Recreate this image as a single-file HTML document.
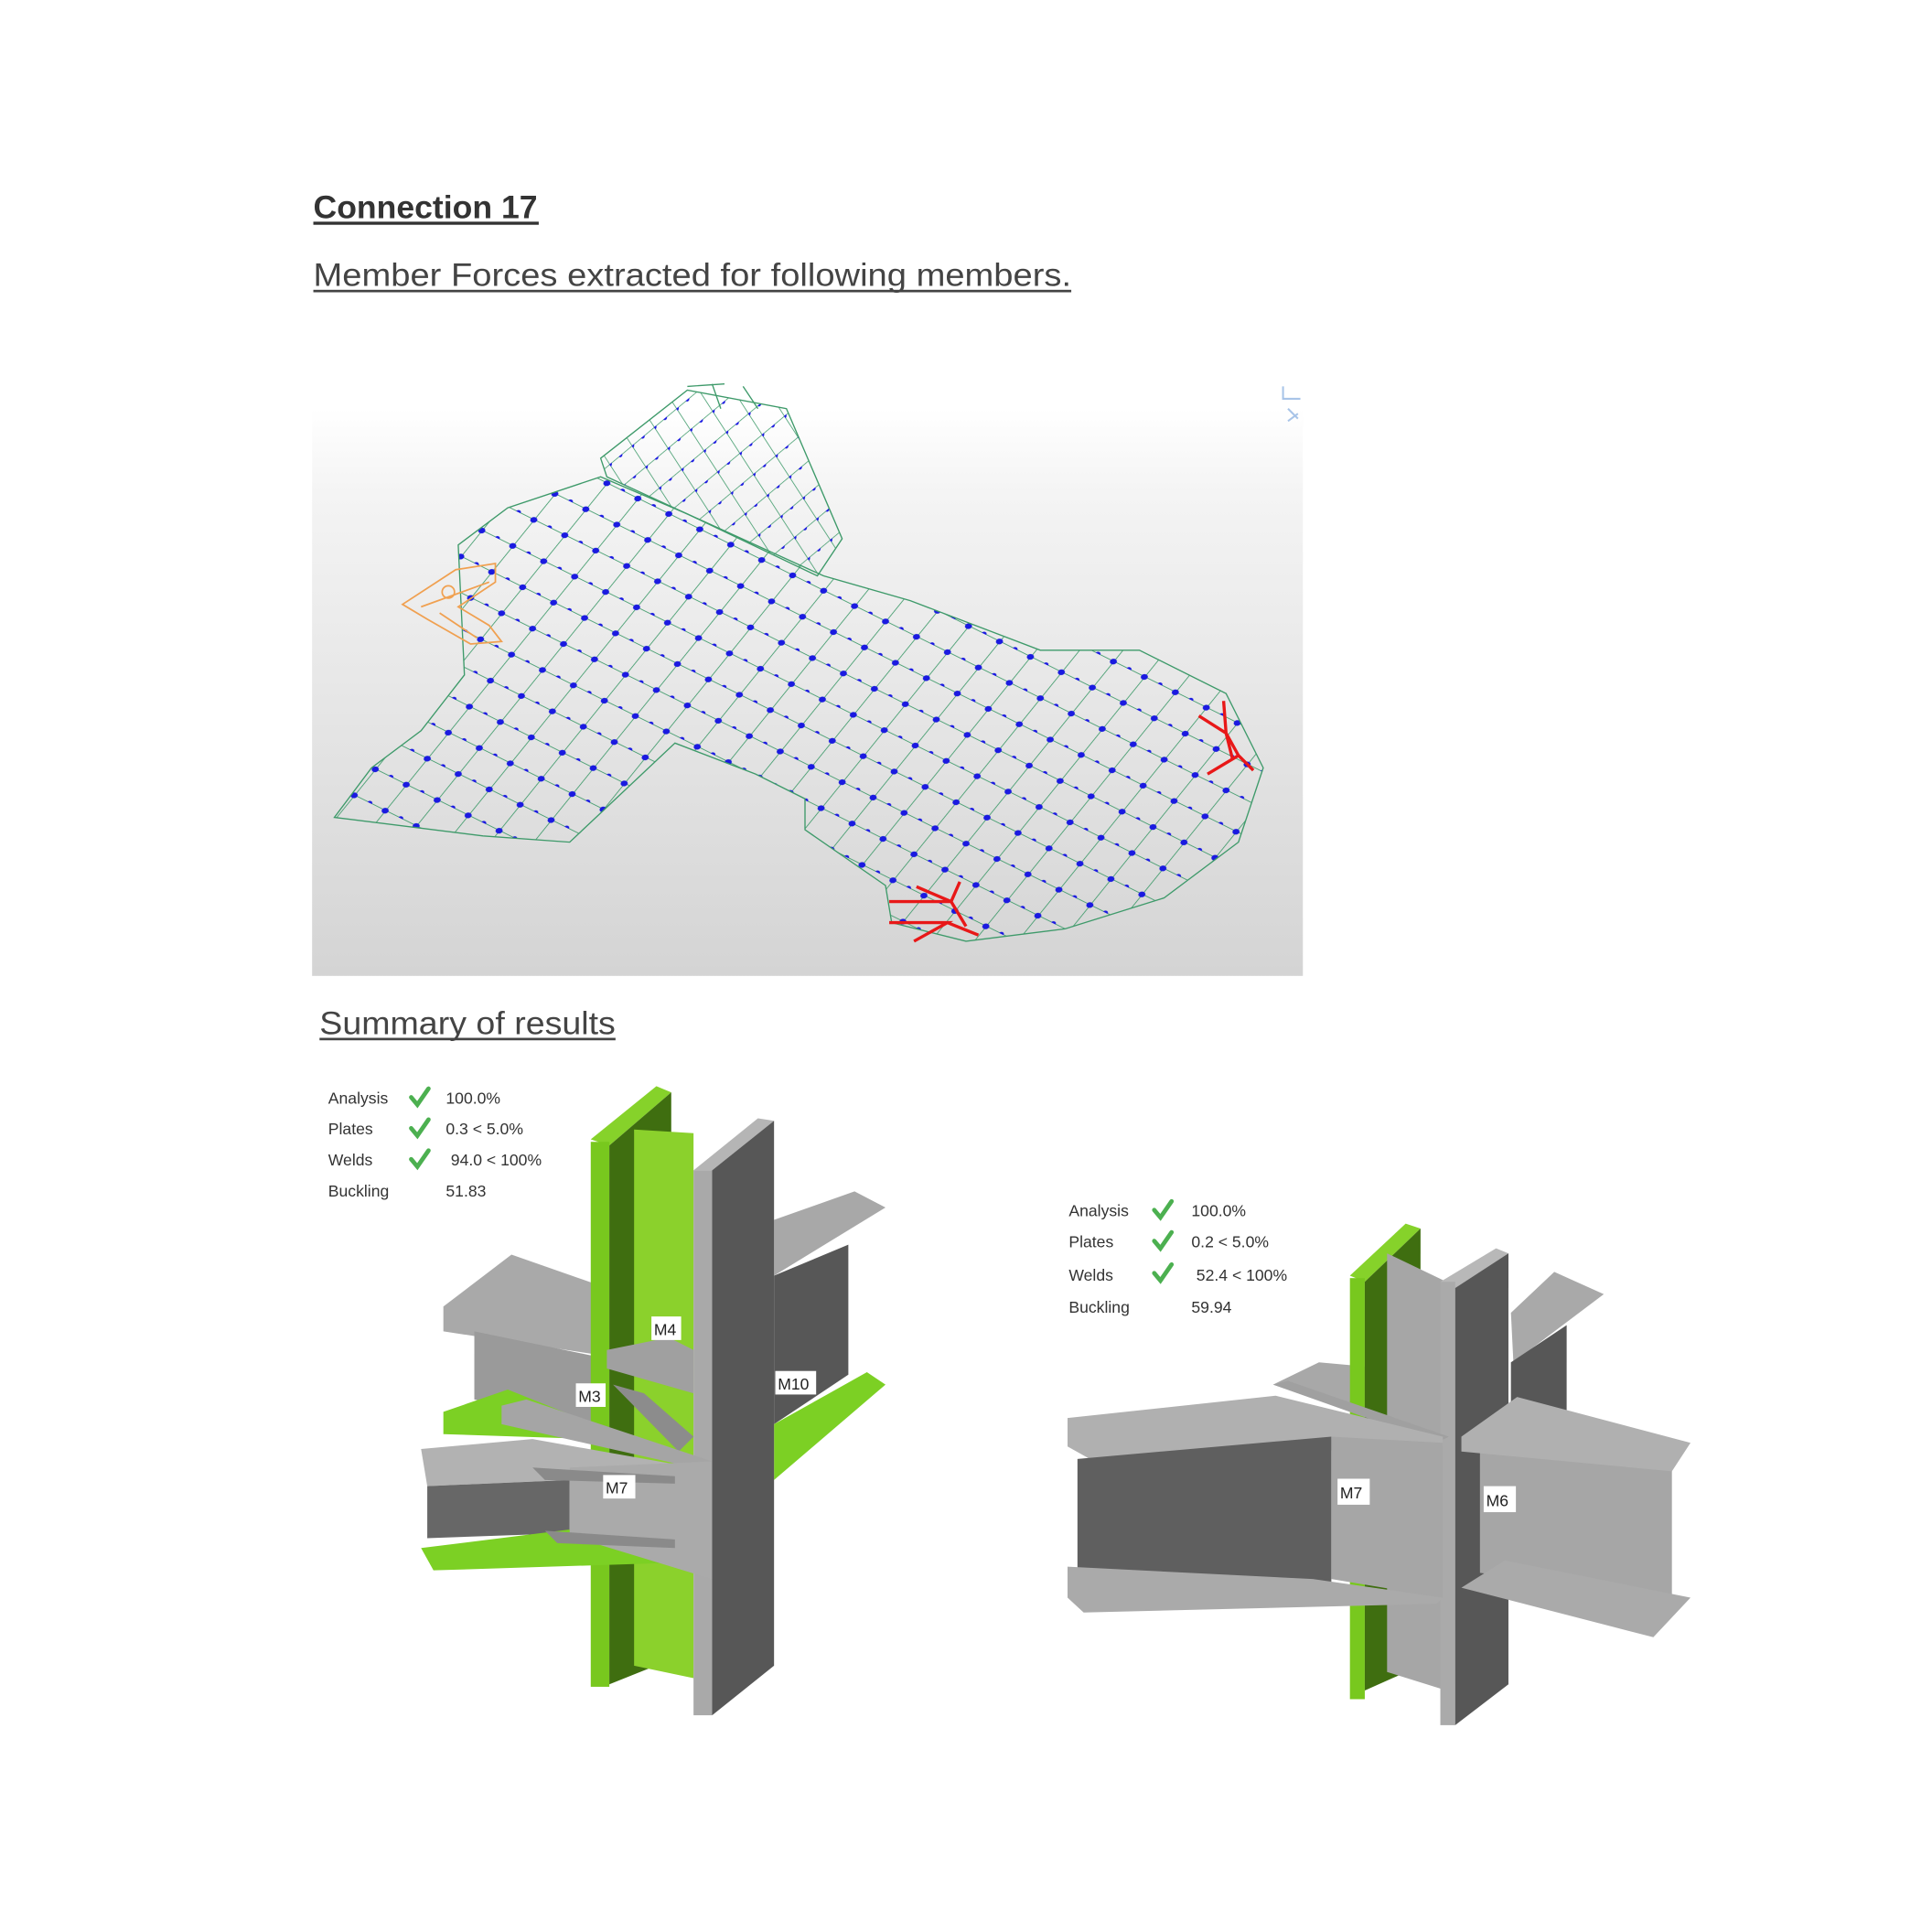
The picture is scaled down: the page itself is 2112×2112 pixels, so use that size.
<!DOCTYPE html>
<html><head><meta charset="utf-8"><style>
html,body{margin:0;padding:0;background:#fff;width:2112px;height:2112px;overflow:hidden}
svg{display:block}
text{font-family:"Liberation Sans",sans-serif}
</style></head><body>
<svg width="2112" height="2112" viewBox="0 0 1560 1560" xmlns="http://www.w3.org/2000/svg">
<defs>
<linearGradient id="bg" x1="0" y1="0" x2="0" y2="1">
<stop offset="0" stop-color="#ffffff"/><stop offset="0.15" stop-color="#f4f4f4"/><stop offset="1" stop-color="#d4d4d4"/>
</linearGradient>
<pattern id="grid" width="20" height="20" patternUnits="userSpaceOnUse" patternTransform="matrix(1.25,0.62,0.85,-1.05,0,0)">
<path d="M0 0H20M0 0V20" stroke="#3e9a6a" stroke-width="0.9" fill="none"/>
<circle cx="0" cy="0" r="1.9" fill="#1a1ae0"/><circle cx="20" cy="0" r="1.9" fill="#1a1ae0"/>
<circle cx="0" cy="20" r="1.9" fill="#1a1ae0"/><circle cx="20" cy="20" r="1.9" fill="#1a1ae0"/>
<circle cx="10" cy="0" r="1.4" fill="#1a1ae0"/>
</pattern>
<pattern id="grid2" width="20" height="20" patternUnits="userSpaceOnUse" patternTransform="matrix(0.9,-0.75,0.55,0.85,0,0)">
<path d="M0 0H20M0 0V20" stroke="#3e9a6a" stroke-width="1" fill="none"/>
<circle cx="0" cy="0" r="2" fill="#1a1ae0"/><circle cx="10" cy="0" r="1.5" fill="#1a1ae0"/>
</pattern>
</defs>

<!-- headings -->
<text x="253" y="176" font-size="26" font-weight="bold" fill="#333" textLength="181" lengthAdjust="spacingAndGlyphs">Connection 17</text>
<rect x="253" y="179" width="182" height="2.5" fill="#333"/>
<text x="253" y="231" font-size="26" fill="#444" textLength="612" lengthAdjust="spacingAndGlyphs">Member Forces extracted for following members.</text>
<rect x="253" y="234" width="612" height="2" fill="#444"/>

<!-- mesh panel -->
<rect x="252" y="330" width="800" height="458" fill="url(#bg)"/>
<path d="M1036 312v10h14M1040 330l8 8M1040 340l8-6" stroke="#a8c4e8" stroke-width="1.5" fill="none"/>
<polygon points="270,660 300,620 340,590 375,545 370,440 410,410 485,385 555,415 665,465 735,485 840,525 920,525 990,560 1020,620 1000,680 940,725 860,750 780,760 720,745 715,715 650,670 650,645 610,625 545,600 460,680 390,675" fill="url(#grid)" stroke="#3e9a6a" stroke-width="1"/>
<polygon points="485,370 555,315 635,330 680,435 660,465 555,415 490,385" fill="url(#grid2)" stroke="#3e9a6a" stroke-width="1"/>
<path d="M555,312 L585,310 M575,310 L582,330 M600,312 L612,330" stroke="#3e9a6a" stroke-width="1"/>
<g fill="none" stroke="#f0a050" stroke-width="1.3">
<polygon points="325,488 368,460 400,455 400,470 370,490 395,505 405,518 380,520 345,500"/>
<circle cx="362" cy="478" r="5"/><path d="M340,490 L395,470 M355,495 L385,515"/>
</g>
<g stroke="#e81818" stroke-width="2.5" fill="none">
<path d="M968,578 L990,592 L1000,610 L975,625 M990,592 L988,566 M1000,610 L1012,622 M990,592 L995,612"/>
<path d="M718,728 L768,728 L780,748 M718,745 L765,745 L738,760 M740,716 L768,728 L775,712 M765,745 L790,755"/>
</g>

<!-- Summary heading -->
<text x="258" y="835" font-size="26" fill="#444" textLength="239" lengthAdjust="spacingAndGlyphs">Summary of results</text>
<rect x="258" y="838" width="239" height="2" fill="#444"/>

<!-- left table -->
<g font-size="13" fill="#333">
<text x="265" y="891">Analysis</text><text x="360" y="891">100.0%</text>
<text x="265" y="916">Plates</text><text x="360" y="916">0.3 &lt; 5.0%</text>
<text x="265" y="941">Welds</text><text x="364" y="941">94.0 &lt; 100%</text>
<text x="265" y="966">Buckling</text><text x="360" y="966">51.83</text>
<text x="863" y="982">Analysis</text><text x="962" y="982">100.0%</text>
<text x="863" y="1007">Plates</text><text x="962" y="1007">0.2 &lt; 5.0%</text>
<text x="863" y="1034">Welds</text><text x="966" y="1034">52.4 &lt; 100%</text>
<text x="863" y="1060">Buckling</text><text x="962" y="1060">59.94</text>
</g>
<g stroke="#4cb050" stroke-width="3.5" fill="none" stroke-linecap="round">
<path d="M332,886 l5,6 l9,-13"/><path d="M332,911 l5,6 l9,-13"/><path d="M332,936 l5,6 l9,-13"/>
<path d="M932,977 l5,6 l9,-13"/><path d="M932,1002 l5,6 l9,-13"/><path d="M932,1028 l5,6 l9,-13"/>
</g>

<!-- LEFT MODEL -->
<!-- back beams -->
<polygon points="625,985 690,962 715,975 625,1030" fill="#a8a8a8"/>
<polygon points="625,1030 685,1005 685,1110 625,1150" fill="#575757"/>
<polygon points="625,1150 700,1108 715,1118 625,1195" fill="#7cd024"/>
<polygon points="358,1055 413,1013 490,1040 490,1095 358,1075" fill="#a9a9a9"/>
<polygon points="383,1075 480,1095 480,1150 383,1130" fill="#9a9a9a"/>
<polygon points="358,1140 410,1122 480,1150 480,1162 358,1158" fill="#7cd024"/>
<!-- green column -->
<polygon points="477,920 530,877 542,882 492,925" fill="#86d22a"/>
<rect x="477" y="922" width="15" height="440" fill="#78c81e"/>
<polygon points="492,925 542,882 542,1340 492,1360" fill="#3f6e10"/>
<polygon points="512,912 560,915 560,1355 512,1345" fill="#8bd12c"/>
<!-- braces -->
<polygon points="490,1090 540,1080 560,1090 560,1125 490,1105" fill="#a0a0a0"/>
<polygon points="495,1118 520,1125 560,1160 548,1172" fill="#8c8c8c"/>
<!-- gray column -->
<polygon points="560,945 612,903 625,905 575,945" fill="#b5b5b5"/>
<rect x="560" y="945" width="15" height="440" fill="#a9a9a9"/>
<polygon points="575,945 625,905 625,1345 575,1385" fill="#575757"/>
<!-- front beam M7 -->
<polygon points="405,1135 425,1130 575,1180 560,1185 405,1150" fill="#a5a5a5"/>
<polygon points="340,1170 430,1162 560,1185 575,1190 345,1200" fill="#b2b2b2"/>
<polygon points="345,1200 460,1195 460,1238 345,1242" fill="#676767"/>
<polygon points="340,1250 460,1235 545,1250 540,1262 350,1268" fill="#7cd024"/>
<polygon points="460,1185 575,1180 575,1275 460,1240" fill="#aaaaaa"/>
<polygon points="430,1185 545,1192 545,1198 440,1195" fill="#8a8a8a"/>
<polygon points="440,1236 545,1243 545,1250 450,1246" fill="#8a8a8a"/>
<!-- labels -->
<g font-size="13" fill="#222">
<rect x="526" y="1063" width="24" height="19" fill="#fff"/><text x="528" y="1078">M4</text>
<rect x="465" y="1117" width="24" height="19" fill="#fff"/><text x="467" y="1132">M3</text>
<rect x="626" y="1107" width="33" height="19" fill="#fff"/><text x="628" y="1122">M10</text>
<rect x="487" y="1191" width="26" height="19" fill="#fff"/><text x="489" y="1206">M7</text>
</g>

<!-- RIGHT MODEL -->
<polygon points="1220,1060 1255,1027 1295,1045 1222,1100" fill="#a9a9a9"/>
<polygon points="1220,1100 1265,1070 1265,1140 1220,1165" fill="#575757"/>
<polygon points="1028,1118 1065,1100 1120,1105 1120,1150" fill="#a8a8a8"/>
<!-- green + web -->
<polygon points="1090,1030 1135,988 1147,992 1102,1035" fill="#86d22a"/>
<rect x="1090" y="1032" width="12" height="340" fill="#78c81e"/>
<polygon points="1102,1035 1147,992 1147,1345 1102,1365" fill="#3f6e10"/>
<polygon points="1120,1012 1168,1035 1168,1365 1120,1350" fill="#a6a6a6"/>
<!-- front flange -->
<polygon points="1163,1035 1208,1008 1218,1012 1175,1040" fill="#b8b8b8"/>
<rect x="1163" y="1035" width="12" height="358" fill="#aaaaaa"/>
<polygon points="1175,1040 1218,1012 1218,1360 1175,1393" fill="#575757"/>
<!-- left beam M7 -->
<polygon points="1028,1118 1040,1115 1170,1160 1160,1165" fill="#a0a0a0"/>
<polygon points="862,1145 1030,1127 1165,1160 1165,1168 880,1178 862,1168" fill="#b0b0b0"/>
<polygon points="870,1178 1075,1160 1075,1280 870,1272" fill="#5f5f5f"/>
<polygon points="1075,1160 1165,1165 1165,1290 1075,1275" fill="#a6a6a6"/>
<polygon points="862,1265 1060,1275 1165,1290 1160,1295 875,1302 862,1290" fill="#aaaaaa"/>
<!-- right beam M6 -->
<polygon points="1195,1170 1350,1185 1350,1290 1195,1270" fill="#a6a6a6"/>
<polygon points="1180,1160 1225,1128 1365,1165 1350,1188 1180,1172" fill="#b0b0b0"/>
<polygon points="1180,1282 1215,1260 1365,1290 1335,1322" fill="#aaaaaa"/>
<g font-size="13" fill="#222">
<rect x="1080" y="1194" width="26" height="21" fill="#fff"/><text x="1082" y="1210">M7</text>
<rect x="1198" y="1200" width="26" height="21" fill="#fff"/><text x="1200" y="1216">M6</text>
</g>
</svg>
</body></html>
